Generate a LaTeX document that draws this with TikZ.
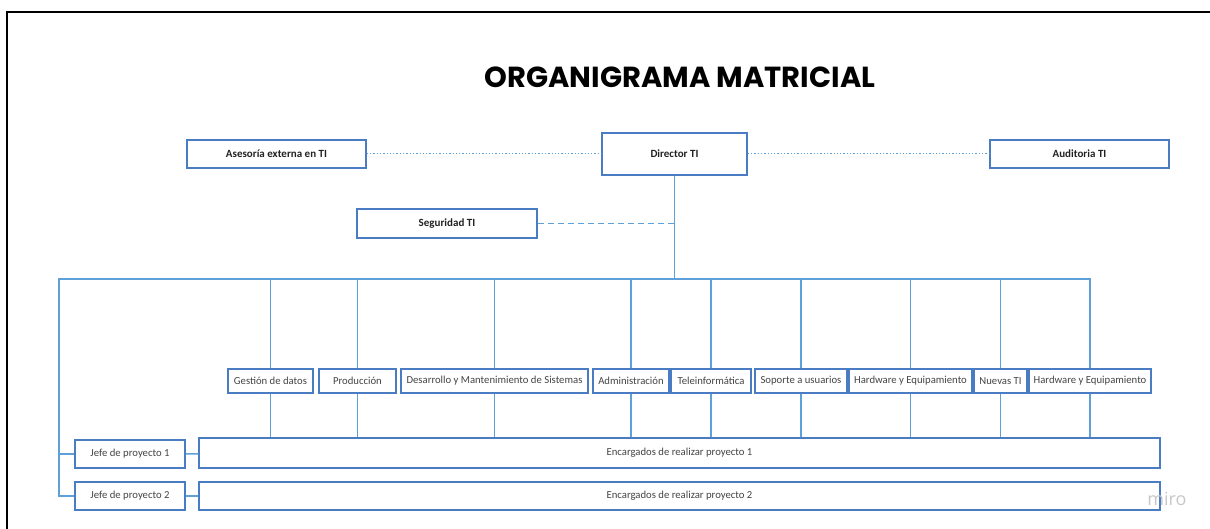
\documentclass[tikz,border=0pt]{standalone}
\usepackage{fontspec}
\setmainfont{Carlito}
\newfontfamily\titlefont{Poppins}
\newfontfamily\markfont{Open Sans}
\usetikzlibrary{positioning}
\definecolor{boxblue}{HTML}{4A7CC4}
\definecolor{lineblue}{HTML}{5DA0DA}
\definecolor{txtdark}{HTML}{222222}
\definecolor{txtgray}{HTML}{444444}
\tikzset{
  box/.style = {draw = boxblue, line width = 1.5pt, fill = white,
    inner sep = 0pt, font = \fontsize{10}{12}\selectfont},
  headbox/.style = {box, text = txtdark, font = \fontsize{11}{13}\selectfont\bfseries},
  deptbox/.style = {box, minimum height = 24pt, text = txtgray,
    font = \fontsize{10.7}{12}\selectfont},
  link/.style = {draw = lineblue, line width = 1.3pt}
}
\begin{document}
\begin{tikzpicture}[x = 1pt, y = -1pt]
  \useasboundingbox (0,0) rectangle (1210,529);
  \draw [line width = 2pt] (7,529) -- (7,12) -- (1210,12);
  \node (title) at (680,77)
    {\titlefont\bfseries\fontsize{29}{33}\selectfont ORGANIGRAMA MATRICIAL};

  % top level
  \node [headbox, minimum width = 145pt, minimum height = 42pt]
    (director) at (674.5,154) {Director TI};
  \node [headbox, minimum width = 179pt, minimum height = 28pt]
    (asesoria) at (276.5,154) {Asesoría externa en TI};
  \node [headbox, minimum width = 179pt, minimum height = 28pt]
    (auditoria) at (1079.5,154) {Auditoria TI};
  \node [headbox, minimum width = 180pt, minimum height = 29pt]
    (seguridad) at (447,223.5) {Seguridad TI};

  % areas
  \node [deptbox, minimum width = 85pt]  (gestion)    at (270.5,381) {Gestión de datos};
  \node [deptbox, minimum width = 77pt]  (produccion) at (357.5,381) {Producción};
  \node [deptbox, minimum width = 187pt] (desarrollo) at (494.5,381) {Desarrollo y Mantenimiento de Sistemas};
  \node [deptbox, minimum width = 76pt]  (admin)      at (631,381)   {Administración};
  \node [deptbox, minimum width = 80pt]  (tele)       at (711,381)   {Teleinformática};
  \node [deptbox, minimum width = 92pt]  (soporte)    at (801,381)   {Soporte a usuarios};
  \node [deptbox, minimum width = 123pt] (hardware)   at (910.5,381) {Hardware y Equipamiento};
  \node [deptbox, minimum width = 53pt]  (nuevas)     at (1000.5,381) {Nuevas TI};
  \node [deptbox, minimum width = 122pt] (hardwareb)  at (1090,381)  {Hardware y Equipamiento};

  % projects
  \node [deptbox, minimum width = 110pt, minimum height = 28pt] (jefe1) at (130,454) {Jefe de proyecto 1};
  \node [deptbox, minimum width = 110pt, minimum height = 28pt] (jefe2) at (130,496) {Jefe de proyecto 2};
  \node [deptbox, minimum width = 961pt, minimum height = 30pt] (proy1) at (679.5,453) {Encargados de realizar proyecto 1};
  \node [deptbox, minimum width = 961pt, minimum height = 28pt] (proy2) at (679.5,496) {Encargados de realizar proyecto 2};

  \coordinate (bus) at (59,279);

  \draw [link, dotted, line width = 1pt] (asesoria) -- (director);
  \draw [link, dotted, line width = 1pt] (director) -- (auditoria);
  \draw [link, line width = 1.6pt, dash pattern = on 6pt off 4pt]
    (seguridad.east) -- (seguridad.east -| director.south);
  \draw [link] (director.south) -- (director.south |- bus);
  \draw [link] (hardwareb.north) |- (bus) |- (jefe2.west);
  \draw [link] (bus |- jefe1.west) -- (jefe1.west);
  \draw [link] (jefe1) -- (proy1);
  \draw [link] (jefe2) -- (proy2);
  \foreach \area in {gestion, produccion, desarrollo, admin, tele,
                     soporte, hardware, nuevas} {
    \draw [link] (\area.north) -- (\area.north |- bus);
  }
  \foreach \area in {gestion, produccion, desarrollo, admin, tele,
                     soporte, hardware, nuevas, hardwareb} {
    \draw [link] (\area.south) -- (\area.south |- proy1.north);
  }

  \node [text = black!22, font = \markfont\fontsize{18}{20}\selectfont]
    (miro) at (1167,499) {miro};
\end{tikzpicture}
\end{document}
